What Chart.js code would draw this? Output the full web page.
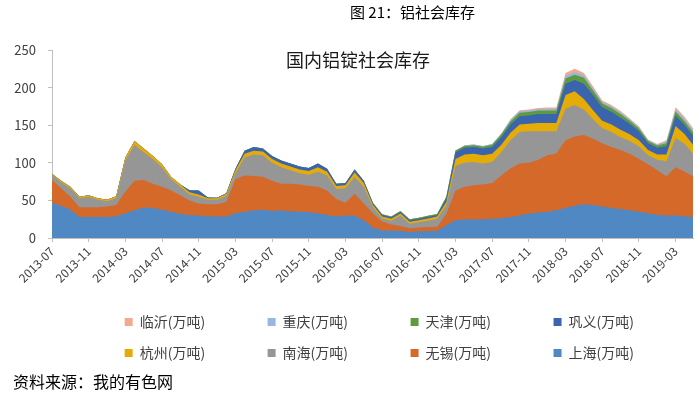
<!DOCTYPE html>
<html>
<head>
<meta charset="utf-8">
<script src="https://cdn.jsdelivr.net/npm/chart.js@4.4.1/dist/chart.umd.min.js"></script>
<style>
  body { margin: 0; background: #fff; }
  #wrap { position: relative; width: 700px; height: 396px; overflow: hidden; }
  #stockChart { position: absolute; left: 0; top: 0; }
  .txt { position: absolute; font-family: "Noto Sans CJK SC", sans-serif; color: #000; white-space: nowrap; }
  #figTitle { left: 350px; top: 2px; font-size: 15px; line-height: 20px; }
  #source { left: 13px; top: 371px; font-size: 16px; line-height: 20px; }
</style>
</head>
<body>
<div id="wrap">
  <canvas id="stockChart" width="700" height="396"></canvas>
  <div class="txt" id="figTitle">图 21：铝社会库存</div>
  <div class="txt" id="source">资料来源：我的有色网</div>
</div>
<script>
// x = months since 2013-07 (one point per month)
const months = [0,1,2,3,4,5,6,7,8,9,10,11,12,13,14,15,16,17,18,19,20,21,22,23,24,25,26,27,28,29,
    30,31,32,33,34,35,36,37,38,39,40,41,42,43,44,45,46,47,48,49,50,51,52,53,54,55,56,57,58,59,
    60,61,62,63,64,65,66,67,68,69,69.9];

const xTickLabels = ['2013-07','2013-11','2014-03','2014-07','2014-11','2015-03','2015-07','2015-11','2016-03',
    '2016-07','2016-11','2017-03','2017-07','2017-11','2018-03','2018-07','2018-11','2019-03'];

// 万吨
const shanghai = [47,43,38,28,28,28,28,29,33,37, 40.5,40,37.5,35,32,30.5,30,29,28.5,28.5,
    33,35,37,37.5,36,36.5,35.5,35,34.5,33, 30.5,29,30,29.5,23.6,14,10,10,9.5,8,
    9,9,9.5,17,23.6,24.5,24.5,25,25.5,26.3, 28,30,32.6,34,35,37,40,43,45,44,
    42,40,38.5,37,35,33,31,30,30,29, 28];
const wuxi = [30,23,17,13,13,13,14,15,29,39, 36.5,32,30.5,28,25,19.5,16,16,16.5,19.5,
    45,48,45.5,44,40,35.5,36.5,36,34.5,35, 32.5,23,17,29.5,22.4,19,12,8,6.5,5,
    5,5.5,5.5,15,39.4,43.5,45.5,46,47.5,56.7, 64.5,69,67.4,69.6,75,75.5,90,92,92,88,
    84,81,78.5,75,70,65,59,52,64,59, 54];
const nanhai = [7,8,11,12,14,10,7,9,41,48, 37,33,26,15,11,8,9,6,6,8,
    8,24,28.5,28.5,24,22,18,15,15,20, 20,13,19,22,22,8,4,5,14,6,
    7,8.5,10.5,11,33,32,31,28,28,31, 37.5,42,42,38.4,32,29.5,42,42,34,26,
    20,20,17,17,17,12,14,20,39,37, 30];
const hangzhou = [1.5,2,2,2,2,2,2,2.5,4,5, 5,4,4,3,3,3,3,2,2,3,
    4,5,5,5,5,5,5,5,5,6, 5,4,4,6,5,3,2.5,2.5,2.5,2.5,
    2.5,3,3,5,9,11,11,11,11,10, 10,10,10,11,11,11,18,18,14,12,
    10,10,10,9,8,7,7,9,16,13, 12];
const gongyi = [0,0,0,0,0,0,0,0,0,0, 0,0,0,0,0,2.5,5,1,0.5,0.5,
    2,4,5,4,4,4,4,4,4,5, 4,3,3,4,3,2,2,2,2,2,
    2,2,2,5,9,9,9,9,9,10, 11,11,11,12,12,12,15,15,20,20,
    18,17,16,14,12,9,9,11,14,12, 12];
const tianjin = [0,0,0,0,0,0,0,0,0,0, 0,0,0,0,0,0,0,0,0,0,
    0,0,0,0,0,0,0,0,0,0, 0,0,0,0,0,1,1,1,1.5,1.5,
    1.5,1.5,1.5,2,2.5,2.5,2.5,2.5,3,3.5, 4,4.5,4.5,4.5,4.5,4.5,7,7,8,6,
    5,5,5,4,3.5,3,3,4,5,5, 4.5];
const chongqing = [0,0,0,0,0,0,0,0,0,0, 0,0,0,0,0,0,0,0,0,0,
    0,0,0,0,0,0,0,0,0,0, 0,0,0,0,0,0,0,0,0,0,
    0,0,0,0,0,1,1,1,1,1.5, 2,2,2,2,2,2,3.5,3.5,3,2.5,
    2,2,2,1.5,1.5,1,1,2,3,3, 2.5];
const linyi = [0,0,0,0,0,0,0,0,0,0, 0,0,0,0,0,0,0,0,0,0,
    0,0,0,0,0,0,0,0,0,0, 0,0,0,0,0,0,0,0,0,0,
    0,0,0,0,0,0,0,0,0,0, 1,1.5,1.5,1.5,2,2,4,4.5,3.5,3,
    2,2,2,1.5,1.5,1,1,2,3,3, 3];

// bottom of the stack first
const seriesList = [
    { label: '上海(万吨)', data: shanghai,  color: '#4F88C2' },
    { label: '无锡(万吨)', data: wuxi,      color: '#D5692A' },
    { label: '南海(万吨)', data: nanhai,    color: '#969696' },
    { label: '杭州(万吨)', data: hangzhou,  color: '#E5AB07' },
    { label: '巩义(万吨)', data: gongyi,    color: '#3A64AE' },
    { label: '天津(万吨)', data: tianjin,   color: '#5E9A3E' },
    { label: '重庆(万吨)', data: chongqing, color: '#94B8E0' },
    { label: '临沂(万吨)', data: linyi,     color: '#F2A98E' }
];

Chart.defaults.font.family = '"Noto Sans CJK SC", sans-serif';

// title sits inside the plot area, so draw it after the chart
const innerTitle = {
    id: 'innerTitle',
    afterDraw(chart) {
        const ctx = chart.ctx;
        ctx.save();
        ctx.font = '18px "Noto Sans CJK SC"';
        ctx.fillStyle = '#1a1a1a';
        ctx.textAlign = 'center';
        ctx.textBaseline = 'middle';
        ctx.fillText('国内铝锭社会库存', 358, 60);
        ctx.restore();
    }
};

const ctx = document.getElementById('stockChart').getContext('2d');
new Chart(ctx, {
    type: 'line',
    data: {
        datasets: seriesList.map(s => ({
            label: s.label,
            data: s.data.map((v, i) => ({ x: months[i], y: v })),
            backgroundColor: s.color,
            borderColor: 'rgba(0,0,0,0)',
            borderWidth: 0,
            pointRadius: 0,
            tension: 0,
            fill: 'origin'
        }))
    },
    options: {
        responsive: false,
        animation: false,
        events: [],
        layout: { padding: { top: 50, left: 0, right: 7, bottom: 26 } },
        scales: {
            x: {
                type: 'linear',
                min: 0,
                max: 69.9,
                border: { color: '#BFBFBF' },
                grid: { drawOnChartArea: false, drawTicks: true, tickLength: 4, color: '#BFBFBF' },
                ticks: {
                    stepSize: 4,
                    includeBounds: false,
                    autoSkip: false,
                    minRotation: 45,
                    maxRotation: 45,
                    padding: 2,
                    color: '#404040',
                    font: { size: 12 },
                    callback: value => xTickLabels[value / 4] || ''
                },
                afterFit: scale => { scale.height = 60; }
            },
            y: {
                stacked: true,
                min: 0,
                max: 250,
                border: { color: '#BFBFBF' },
                grid: { drawOnChartArea: false, drawTicks: true, tickLength: 4, color: '#BFBFBF' },
                ticks: { stepSize: 50, padding: 12, color: '#404040', font: { size: 13 } },
                afterFit: scale => { scale.width = 52; }
            }
        },
        plugins: {
            tooltip: { enabled: false },
            legend: {
                position: 'bottom',
                align: 'end',
                labels: {
                    boxWidth: 8,
                    boxHeight: 8,
                    padding: 17,
                    color: '#404040',
                    font: { size: 14 },
                    // legend reads top of stack first, 4 to a row
                    generateLabels: chart => {
                        const items = Chart.defaults.plugins.legend.labels.generateLabels(chart).reverse();
                        items.forEach((item, i) => {
                            item.text += (i % 4 === 3) ? '\u3000\u3000\u3000' : '\u3000\u3000\u3000\u2005';
                        });
                        return items;
                    }
                }
            }
        }
    },
    plugins: [innerTitle]
});
</script>
</body>
</html>
